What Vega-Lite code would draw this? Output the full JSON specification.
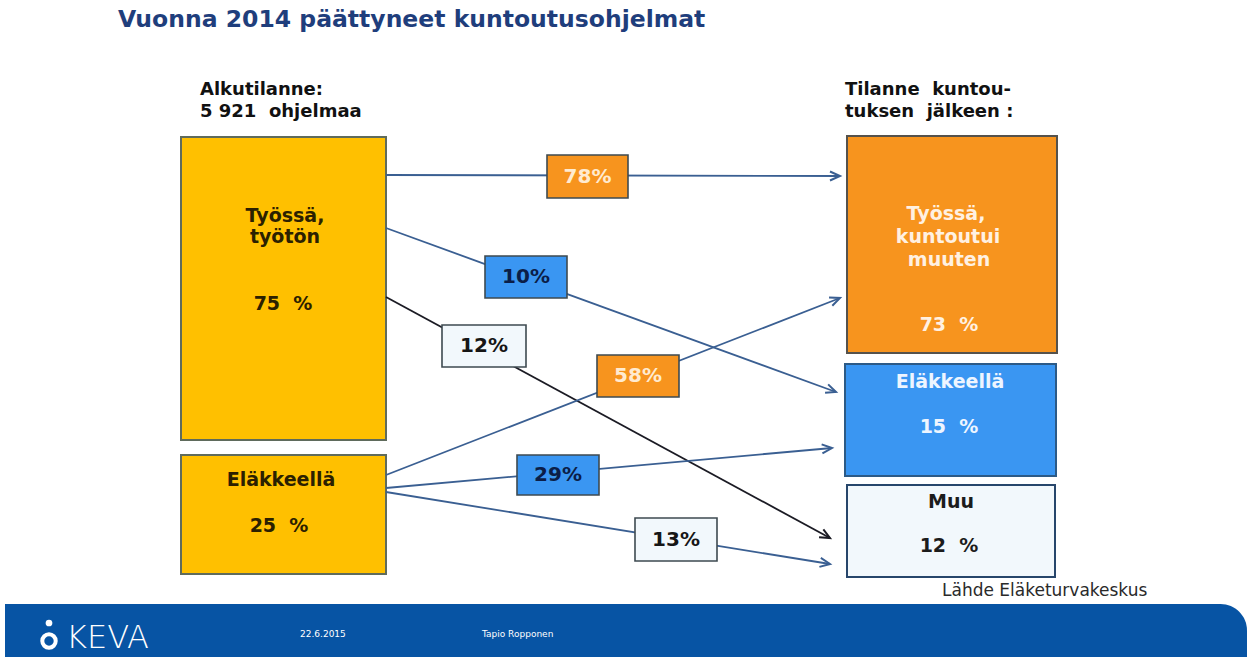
{
  "$schema": "https://vega.github.io/schema/vega-lite/v6.json",
  "width": 1247,
  "height": 657,
  "autosize": {"type": "fit", "contains": "padding"},
  "padding": 0,
  "background": "white",
  "config": {"view": {"stroke": null}, "text": {"font": "DejaVu Sans"}},
  "resolve": {"scale": {"color": "independent"}},
  "datasets": {
    "boxes": [
      {"cat": "Alku", "label": "Työssä, työtön", "x": 181, "x2": 386, "y": 137, "y2": 440},
      {"cat": "Alku", "label": "Eläkkeellä", "x": 181, "x2": 386, "y": 455, "y2": 574},
      {"cat": "Työssä", "label": "Työssä, kuntoutui muuten", "x": 847, "x2": 1057, "y": 136, "y2": 353},
      {"cat": "Eläkkeellä", "label": "Eläkkeellä", "x": 845, "x2": 1056, "y": 364, "y2": 476},
      {"cat": "Muu", "label": "Muu", "x": 847, "x2": 1055, "y": 485, "y2": 577}
    ],
    "flows": [
      {"from": "Työssä, työtön", "to": "Työssä", "cat": "Työssä", "pct": "78%", "x": 386, "y": 175, "x2": 840, "y2": 176, "bx": 547, "bx2": 628, "by": 155, "by2": 198},
      {"from": "Työssä, työtön", "to": "Eläkkeellä", "cat": "Eläkkeellä", "pct": "10%", "x": 386, "y": 228, "x2": 836, "y2": 392, "bx": 485, "bx2": 567, "by": 256, "by2": 298},
      {"from": "Työssä, työtön", "to": "Muu", "cat": "Muu", "pct": "12%", "x": 386, "y": 297, "x2": 830, "y2": 538, "bx": 442, "bx2": 526, "by": 325, "by2": 367},
      {"from": "Eläkkeellä", "to": "Työssä", "cat": "Työssä", "pct": "58%", "x": 386, "y": 475, "x2": 840, "y2": 298, "bx": 597, "bx2": 679, "by": 355, "by2": 397},
      {"from": "Eläkkeellä", "to": "Eläkkeellä", "cat": "Eläkkeellä", "pct": "29%", "x": 386, "y": 488, "x2": 832, "y2": 448, "bx": 517, "bx2": 599, "by": 455, "by2": 495},
      {"from": "Eläkkeellä", "to": "Muu", "cat": "Muu", "pct": "13%", "x": 386, "y": 492, "x2": 830, "y2": 564, "bx": 635, "bx2": 717, "by": 518, "by2": 561}
    ],
    "boxtext": [
      {"cat": "Alku", "text": "Työssä,", "x": 285, "y": 216},
      {"cat": "Alku", "text": "työtön", "x": 285, "y": 237},
      {"cat": "Alku", "text": "75\u00a0 %", "x": 283, "y": 304},
      {"cat": "Alku", "text": "Eläkkeellä", "x": 281, "y": 480},
      {"cat": "Alku", "text": "25\u00a0 %", "x": 279, "y": 526},
      {"cat": "Työssä", "text": "Työssä,", "x": 946, "y": 214},
      {"cat": "Työssä", "text": "kuntoutui", "x": 948, "y": 237},
      {"cat": "Työssä", "text": "muuten", "x": 949, "y": 260},
      {"cat": "Työssä", "text": "73\u00a0 %", "x": 949, "y": 325},
      {"cat": "Eläkkeellä", "text": "Eläkkeellä", "x": 950, "y": 382},
      {"cat": "Eläkkeellä", "text": "15\u00a0 %", "x": 949, "y": 427},
      {"cat": "Muu", "text": "Muu", "x": 951, "y": 502},
      {"cat": "Muu", "text": "12\u00a0 %", "x": 949, "y": 546}
    ],
    "headings": [
      {"text": "Alkutilanne:", "x": 200, "y": 95},
      {"text": "5 921\u00a0 ohjelmaa", "x": 200, "y": 117},
      {"text": "Tilanne\u00a0 kuntou-", "x": 845, "y": 95},
      {"text": "tuksen\u00a0 jälkeen :", "x": 845, "y": 117}
    ],
    "title": [{"text": "Vuonna 2014 päättyneet kuntoutusohjelmat", "x": 118, "y": 27}],
    "source": [{"text": "Lähde Eläketurvakeskus", "x": 942, "y": 596}],
    "footer": [{"x": 5, "x2": 1247, "y": 604, "y2": 657}],
    "ring": [{"x": 49, "y": 641}],
    "dot": [{"x": 49, "y": 623}],
    "logo": [{"text": "KEVA", "x": 66, "y": 638}],
    "footnotes": [
      {"text": "22.6.2015", "x": 300, "y": 634},
      {"text": "Tapio Ropponen", "x": 482, "y": 634}
    ]
  },
  "layer": [
    {
      "data": {"name": "boxes"},
      "mark": {"type": "rect", "strokeWidth": 2},
      "encoding": {
        "x": {"field": "x", "type": "quantitative", "axis": null, "scale": {"domain": [0, 1247], "nice": false, "zero": false}},
        "x2": {"field": "x2"},
        "y": {"field": "y", "type": "quantitative", "axis": null, "scale": {"domain": [0, 657], "nice": false, "zero": false, "reverse": true}},
        "y2": {"field": "y2"},
        "fill": {"field": "cat", "type": "nominal", "legend": null, "scale": {"domain": ["Alku", "Työssä", "Eläkkeellä", "Muu"], "range": ["#FFC000", "#F7941E", "#3A96F2", "#F2F8FC"]}},
        "stroke": {"field": "cat", "type": "nominal", "legend": null, "scale": {"domain": ["Alku", "Työssä", "Eläkkeellä", "Muu"], "range": ["#5f6b5c", "#55524c", "#2c5a86", "#27466b"]}}
      }
    },
    {
      "data": {"name": "flows"},
      "mark": {"type": "rule", "strokeWidth": 1.8},
      "encoding": {
        "x": {"field": "x", "type": "quantitative", "axis": null},
        "x2": {"field": "x2"},
        "y": {"field": "y", "type": "quantitative", "axis": null},
        "y2": {"field": "y2"},
        "stroke": {"condition": {"test": "datum.pct === '12%'", "value": "#1b1b24"}, "value": "#3a5f92"}
      }
    },
    {
      "data": {"name": "flows"},
      "transform": [{"calculate": "atan2(datum.y2 - datum.y, datum.x2 - datum.x) * 180 / PI", "as": "ang"}],
      "mark": {"type": "point", "shape": "M-2,-0.9L0,0L-2,0.9", "filled": false, "strokeWidth": 2, "size": 100, "opacity": 1},
      "encoding": {
        "x": {"field": "x2", "type": "quantitative", "axis": null},
        "y": {"field": "y2", "type": "quantitative", "axis": null},
        "angle": {"field": "ang", "type": "quantitative", "scale": null},
        "stroke": {"condition": {"test": "datum.pct === '12%'", "value": "#1b1b24"}, "value": "#3a5f92"}
      }
    },
    {
      "data": {"name": "flows"},
      "mark": {"type": "rect", "strokeWidth": 1.6, "stroke": "#3e4a50"},
      "encoding": {
        "x": {"field": "bx", "type": "quantitative", "axis": null},
        "x2": {"field": "bx2"},
        "y": {"field": "by", "type": "quantitative", "axis": null},
        "y2": {"field": "by2"},
        "fill": {"field": "cat", "type": "nominal", "legend": null}
      }
    },
    {
      "data": {"name": "flows"},
      "transform": [
        {"calculate": "(datum.bx + datum.bx2) / 2", "as": "cx"},
        {"calculate": "(datum.by + datum.by2) / 2", "as": "cy"}
      ],
      "mark": {"type": "text", "fontSize": 20, "fontWeight": "bold", "align": "center", "baseline": "middle"},
      "encoding": {
        "x": {"field": "cx", "type": "quantitative", "axis": null},
        "y": {"field": "cy", "type": "quantitative", "axis": null},
        "text": {"field": "pct"},
        "color": {"field": "cat", "type": "nominal", "legend": null, "scale": {"domain": ["Alku", "Työssä", "Eläkkeellä", "Muu"], "range": ["#2b2000", "#FFEBD0", "#0B1E48", "#161616"]}}
      }
    },
    {
      "data": {"name": "boxtext"},
      "mark": {"type": "text", "fontSize": 19, "fontWeight": "bold", "align": "center", "baseline": "middle"},
      "encoding": {
        "x": {"field": "x", "type": "quantitative", "axis": null},
        "y": {"field": "y", "type": "quantitative", "axis": null},
        "text": {"field": "text"},
        "color": {"field": "cat", "type": "nominal", "legend": null, "scale": {"domain": ["Alku", "Työssä", "Eläkkeellä", "Muu"], "range": ["#2b2000", "#FFF1E2", "#EEF5FF", "#1c1c1c"]}}
      }
    },
    {
      "data": {"name": "headings"},
      "mark": {"type": "text", "fontSize": 18, "fontWeight": "bold", "align": "left", "baseline": "alphabetic", "color": "#111111"},
      "encoding": {
        "x": {"field": "x", "type": "quantitative", "axis": null},
        "y": {"field": "y", "type": "quantitative", "axis": null},
        "text": {"field": "text"}
      }
    },
    {
      "data": {"name": "title"},
      "mark": {"type": "text", "fontSize": 23.5, "fontWeight": "bold", "align": "left", "baseline": "alphabetic", "color": "#1F3E7C"},
      "encoding": {
        "x": {"field": "x", "type": "quantitative", "axis": null},
        "y": {"field": "y", "type": "quantitative", "axis": null},
        "text": {"field": "text"}
      }
    },
    {
      "data": {"name": "source"},
      "mark": {"type": "text", "fontSize": 17, "align": "left", "baseline": "alphabetic", "color": "#2a2a2a"},
      "encoding": {
        "x": {"field": "x", "type": "quantitative", "axis": null},
        "y": {"field": "y", "type": "quantitative", "axis": null},
        "text": {"field": "text"}
      }
    },
    {
      "data": {"name": "footer"},
      "mark": {"type": "rect", "fill": "#0754A4", "cornerRadiusTopRight": 60},
      "encoding": {
        "x": {"field": "x", "type": "quantitative", "axis": null},
        "x2": {"field": "x2"},
        "y": {"field": "y", "type": "quantitative", "axis": null},
        "y2": {"field": "y2"}
      }
    },
    {
      "data": {"name": "ring"},
      "mark": {"type": "point", "shape": "circle", "filled": false, "stroke": "white", "strokeWidth": 4, "size": 180, "opacity": 1},
      "encoding": {
        "x": {"field": "x", "type": "quantitative", "axis": null},
        "y": {"field": "y", "type": "quantitative", "axis": null}
      }
    },
    {
      "data": {"name": "dot"},
      "mark": {"type": "point", "shape": "circle", "filled": true, "fill": "white", "size": 45, "opacity": 1},
      "encoding": {
        "x": {"field": "x", "type": "quantitative", "axis": null},
        "y": {"field": "y", "type": "quantitative", "axis": null}
      }
    },
    {
      "data": {"name": "logo"},
      "mark": {"type": "text", "fontSize": 32, "fontWeight": 200, "align": "left", "baseline": "middle", "color": "white"},
      "encoding": {
        "x": {"field": "x", "type": "quantitative", "axis": null},
        "y": {"field": "y", "type": "quantitative", "axis": null},
        "text": {"field": "text"}
      }
    },
    {
      "data": {"name": "footnotes"},
      "mark": {"type": "text", "fontSize": 9, "align": "left", "baseline": "middle", "color": "white"},
      "encoding": {
        "x": {"field": "x", "type": "quantitative", "axis": null},
        "y": {"field": "y", "type": "quantitative", "axis": null},
        "text": {"field": "text"}
      }
    }
  ]
}
